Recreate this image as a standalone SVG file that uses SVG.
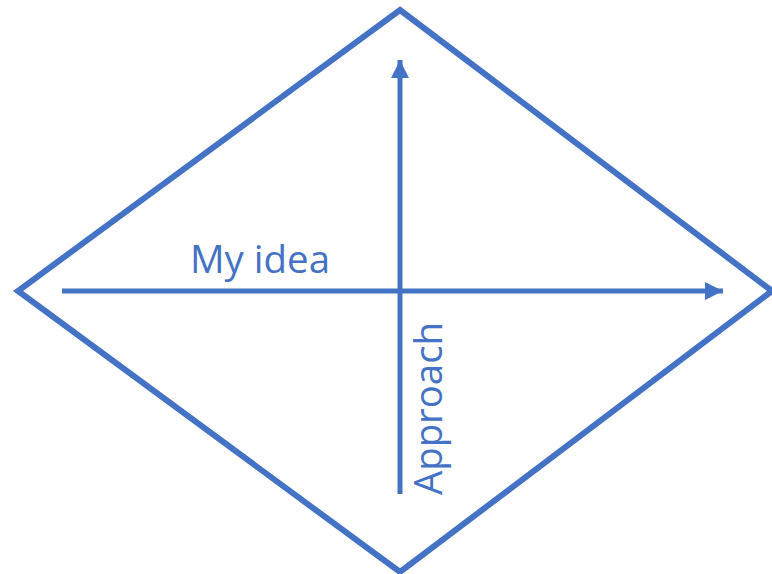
<svg xmlns="http://www.w3.org/2000/svg" width="772" height="574" viewBox="0 0 772 574">
<style>
.shape{fill:none;stroke:#4472C4;stroke-width:6;stroke-linejoin:miter}
.conn{fill:none;stroke:#4472C4;stroke-width:5}
.lbl{font-family:"Open Sans","Noto Sans","Liberation Sans",sans-serif;font-size:38px;fill:#4472C4}
</style>
<defs>
<marker id="ah" viewBox="0 0 10 10" refX="10" refY="5" markerUnits="userSpaceOnUse" markerWidth="19" markerHeight="18" orient="auto">
<path d="M0,0 L10,5 L0,10 Z" fill="#4472C4"/>
</marker>
</defs>
<rect width="772" height="574" fill="#ffffff"/>
<g id="diamond">
<polygon class="shape" points="400,10 772,291 400,572 18,291"/>
</g>
<g id="connectors">
<line class="conn" x1="62" y1="291" x2="723" y2="291" marker-end="url(#ah)"/>
<line class="conn" x1="400" y1="494" x2="400" y2="60" marker-end="url(#ah)"/>
</g>
<g id="label-idea">
<text class="lbl" x="190" y="273" textLength="140" lengthAdjust="spacingAndGlyphs">My idea</text>
</g>
<g id="label-approach">
<text class="lbl" transform="translate(442,495) rotate(-90)" textLength="173" lengthAdjust="spacingAndGlyphs">Approach</text>
</g>
</svg>
